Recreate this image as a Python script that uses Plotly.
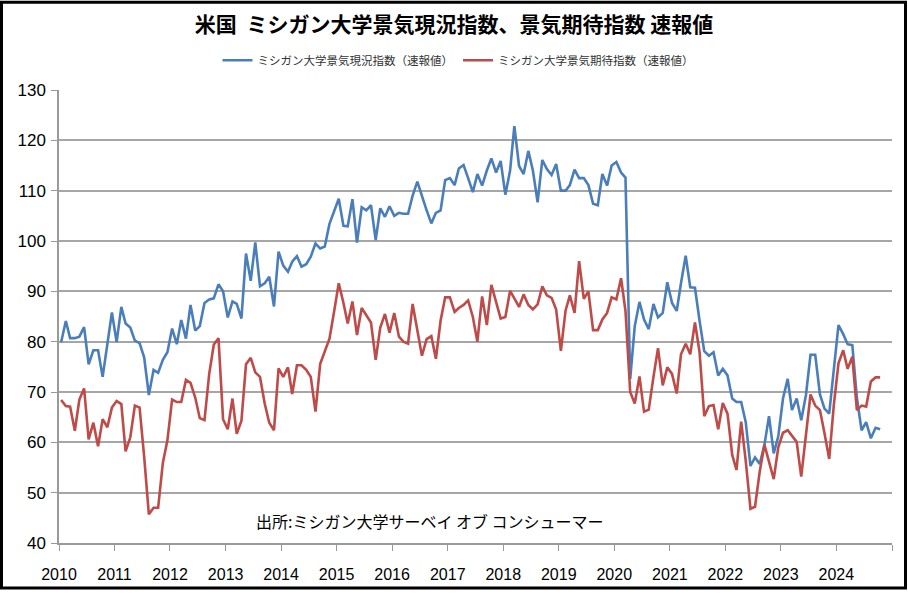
import plotly.graph_objects as go

# ---- data (monthly, Jan 2010 - Oct 2024, preliminary readings) ----
start_year = 2010
current_idx = [
    # 2010
    79.9, 84.1, 80.7, 80.7, 81.0, 82.9, 75.5, 78.3, 78.3, 73.0, 79.5, 85.8,
    # 2011
    79.9, 86.9, 83.6, 82.8, 80.2, 79.7, 76.9, 69.4, 74.4, 73.8, 76.4, 77.9,
    # 2012
    82.6, 79.5, 84.3, 80.6, 87.3, 82.2, 83.1, 87.7, 88.4, 88.6, 91.4, 90.0,
    # 2013
    84.8, 88.0, 87.5, 84.6, 97.5, 92.1, 99.7, 91.0, 91.6, 92.9, 87.0, 97.9,
    # 2014
    95.1, 93.9, 95.9, 97.0, 94.9, 95.4, 96.9, 99.5, 98.5, 98.9, 103.4, 105.8,
    # 2015
    108.4, 103.0, 102.9, 108.3, 99.7, 106.7, 106.1, 107.1, 100.2, 106.5, 104.8, 106.9,
    # 2016
    105.0, 105.6, 105.4, 105.4, 109.0, 111.8, 108.9, 106.1, 103.5, 105.6, 106.1, 112.1,
    # 2017
    112.5, 111.1, 114.4, 115.1, 112.5, 109.7, 113.3, 111.0, 114.0, 116.4, 113.6, 115.9,
    # 2018
    109.2, 114.0, 122.8, 114.9, 113.3, 117.9, 114.0, 107.7, 116.1, 114.3, 113.1, 115.3,
    # 2019
    110.0, 110.0, 111.1, 114.2, 112.5, 112.5, 111.1, 107.4, 107.1, 113.3, 111.0, 115.0,
    # 2020
    115.7, 113.6, 112.6, 72.6, 83.1, 87.9, 84.4, 82.5, 87.5, 84.8, 85.7, 91.8,
    # 2021
    87.7, 86.1, 91.6, 97.1, 90.8, 90.7, 84.2, 78.1, 77.2, 77.9, 73.3, 74.6,
    # 2022
    73.3, 68.7, 68.0, 68.0, 64.0, 55.3, 57.0, 55.7, 59.5, 65.2, 57.8, 61.2,
    # 2023
    68.7, 72.6, 66.4, 68.7, 64.4, 69.4, 77.4, 77.4, 69.5, 66.7, 65.7, 74.5,
    # 2024
    83.3, 81.5, 79.5, 79.3, 68.8, 62.4, 64.0, 60.8, 62.9, 62.6,
]
expect_idx = [
    # 2010
    68.4, 67.2, 67.1, 62.3, 68.5, 70.7, 60.6, 63.9, 59.2, 64.6, 63.0, 66.9,
    # 2011
    68.2, 67.6, 58.2, 61.0, 67.3, 66.9, 57.2, 45.7, 47.0, 47.0, 55.9, 60.4,
    # 2012
    68.5, 68.0, 68.0, 72.4, 71.8, 68.9, 64.8, 64.4, 73.6, 79.4, 80.7, 64.6,
    # 2013
    62.6, 68.7, 61.7, 64.3, 75.5, 76.8, 73.9, 73.0, 67.7, 63.9, 62.4, 74.7,
    # 2014
    73.0, 74.9, 69.6, 75.3, 75.3, 74.4, 73.0, 66.1, 75.6, 78.2, 80.6, 85.9,
    # 2015
    91.6, 87.7, 83.6, 88.0, 81.3, 86.7, 85.4, 83.8, 76.4, 82.8, 85.5, 81.8,
    # 2016
    85.7, 81.0, 80.0, 79.6, 87.5, 82.2, 77.2, 80.5, 81.1, 76.6, 84.2, 88.8,
    # 2017
    88.8, 85.9, 86.7, 87.3, 88.2, 84.9, 80.0, 89.0, 83.3, 91.3, 88.0, 84.6,
    # 2018
    84.9, 90.1, 88.6, 86.9, 89.4, 87.3, 86.4, 87.4, 91.0, 89.2, 88.7, 86.4,
    # 2019
    78.2, 86.2, 89.2, 85.7, 96.0, 88.5, 90.0, 82.3, 82.3, 84.4, 85.7, 88.8,
    # 2020
    88.4, 92.6, 86.1, 70.0, 67.7, 73.1, 66.1, 66.5, 73.0, 78.7, 71.3, 74.9,
    # 2021
    73.6, 69.7, 77.5, 79.6, 77.5, 83.8, 78.0, 65.2, 67.2, 67.4, 62.6, 67.8,
    # 2022
    65.7, 57.5, 54.5, 64.1, 56.3, 46.8, 47.2, 54.2, 59.5, 56.2, 52.7, 59.0,
    # 2023
    61.9, 62.4, 61.4, 60.1, 53.2, 62.1, 69.5, 67.3, 66.4, 61.8, 56.7, 67.3,
    # 2024
    75.7, 78.3, 74.6, 77.0, 66.4, 67.3, 67.1, 72.1, 72.9, 72.9,
]
year_ticks = list(range(2010, 2026))
year_labels = [str(y) for y in range(2010, 2025)] + [""]

series_names = ["ミシガン大学景気現況指数（速報値）", "ミシガン大学景気期待指数（速報値）"]
title_text = "米国  ミシガン大学景気現況指数、景気期待指数 速報値"
source_text = "出所:ミシガン大学サーベイ オブ コンシューマー"

# monthly dates (mid-month)
dates = []
for k in range(len(current_idx)):
    y = start_year + k // 12
    m = k % 12 + 1
    dates.append(f"{y}-{m:02d}-15")

JP = "Noto Sans CJK JP"
NUM = "Liberation Sans Narrow, Liberation Sans, Noto Sans CJK JP"

fig = go.Figure()
fig.add_trace(go.Scatter(x=dates, y=current_idx, mode="lines", name=series_names[0],
                         line=dict(color="#4A7EBB", width=2.6)))
fig.add_trace(go.Scatter(x=dates, y=expect_idx, mode="lines", name=series_names[1],
                         line=dict(color="#BE4B48", width=2.6)))

W, H = 908, 595
ml, mr, mt, mb = 59, 16, 90, 48
pw, ph = W - ml - mr, H - mt - mb

fig.update_layout(
    width=W, height=H,
    margin=dict(l=ml, r=mr, t=mt, b=mb),
    paper_bgcolor="white", plot_bgcolor="white",
    title=dict(text="<b>" + title_text + "</b>", x=0.5, xanchor="center", y=1 - 25 / H, yanchor="middle",
               font=dict(family=JP, size=21, color="black")),
    legend=dict(orientation="h", x=(458 - ml) / pw, xanchor="center",
                y=(H - mb - 60) / ph, yanchor="middle",
                font=dict(family=JP, size=11.5, color="#333333"),
                itemwidth=30, bgcolor="rgba(0,0,0,0)"),
    showlegend=True,
)
tick_dates = [f"{y}-01-01" for y in year_ticks]
fig.update_xaxes(
    type="date", range=[tick_dates[0], tick_dates[-1]],
    tickmode="array", tickvals=tick_dates, ticktext=year_labels,
    ticks="outside", ticklen=6, tickcolor="#9a9a9a", tickwidth=1.3,
    showline=True, linecolor="#9a9a9a", linewidth=1.5,
    showgrid=False, zeroline=False, ticklabelstandoff=10,
    tickfont=dict(family=NUM, size=16, color="black"),
)
fig.update_yaxes(
    range=[40, 130], dtick=10, tick0=40,
    ticks="outside", ticklen=6, tickcolor="#9a9a9a", tickwidth=1.3,
    showline=True, linecolor="#9a9a9a", linewidth=1.5,
    showgrid=True, gridcolor="#a6a6a6", gridwidth=1.5, zeroline=False,
    ticklabelstandoff=2,
    tickfont=dict(family=NUM, size=17, color="black"),
)
fig.add_annotation(text=source_text, xref="paper", yref="paper",
                   x=(430 - ml) / pw, y=(H - mb - 525) / ph, xanchor="center", yanchor="middle",
                   showarrow=False, font=dict(family=JP, size=16, color="black"))
# outer frame
fig.add_shape(type="rect", xref="paper", yref="paper",
              x0=(1.5 - ml) / pw, x1=(W - 2.5 - ml) / pw,
              y0=-(mb - 2.5) / ph, y1=1 + (mt - 1.5) / ph,
              line=dict(color="black", width=3), fillcolor="rgba(0,0,0,0)", layer="above")

fig.write_html("out.html", config={"displayModeBar": False},
               post_script="document.body.style.margin='0px';document.body.style.overflow='hidden';")
